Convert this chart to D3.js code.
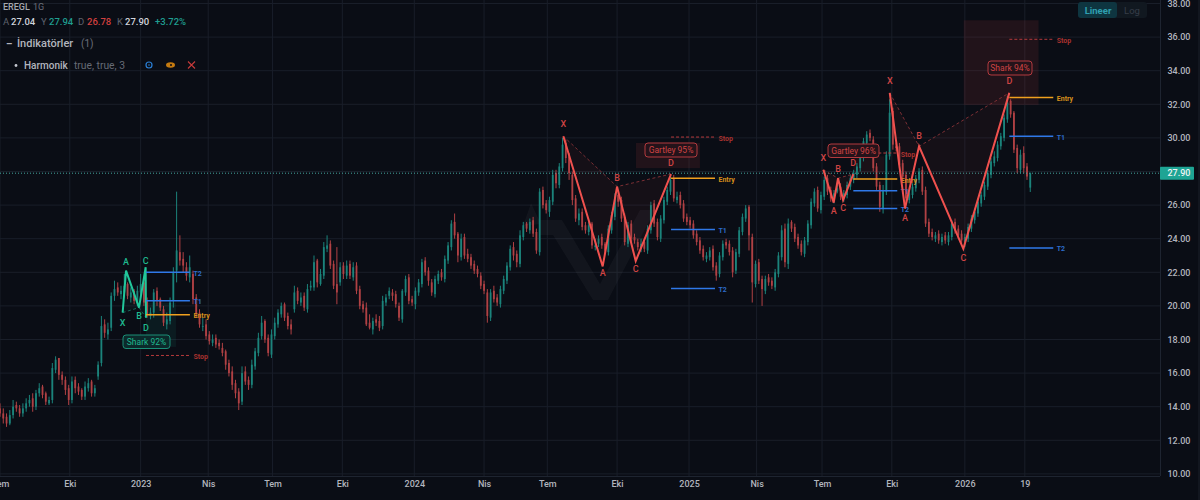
<!DOCTYPE html>
<html><head><meta charset="utf-8">
<script src="https://cdnjs.cloudflare.com/ajax/libs/d3/7.8.5/d3.min.js"></script>
<style>html,body{margin:0;padding:0;background:#0a0d15;overflow:hidden}svg{display:block}text{font-family:Roboto,"Open Sans",sans-serif}</style>
</head><body><svg id="c" width="1200" height="500"></svg>
<script>
// Price rows, one bar per three sessions
const opens=[
13.9,13.6,13.4,13.0,13.5,14.1,13.9,13.6,13.9,14.2,
14.5,14.0,14.8,15.2,14.8,14.2,14.4,16.2,16.9,15.9,
15.6,15.1,14.4,15.6,15.2,15.0,14.6,15.1,15.5,14.8,
15.8,16.6,18.9,18.3,18.7,20.6,21.1,20.7,20.8,21.3,
20.5,20.9,20.2,20.8,21.4,20.3,19.4,19.6,20.9,20.4,
19.8,18.9,19.1,20.3,22.1,23.2,22.8,22.3,21.7,21.9,
20.5,19.6,18.8,18.9,18.3,17.8,18.1,17.8,17.5,17.3,
16.6,16.1,15.4,14.9,14.3,16.1,15.6,15.3,16.4,17.2,
18.2,19.1,18.1,17.1,18.2,18.9,19.5,20.1,19.4,18.9,
19.8,20.9,20.2,20.6,19.8,21.1,21.1,22.7,21.3,21.8,
23.4,23.7,22.5,21.3,21.4,22.4,21.8,22.5,21.7,22.4,
21.0,20.1,19.9,19.0,18.6,19.2,19.1,18.8,20.2,20.6,
20.8,20.7,20.0,19.2,20.8,21.7,20.4,20.1,20.8,21.3,
22.7,22.1,21.4,20.7,21.5,22.0,21.6,22.7,23.5,25.0,
24.3,22.9,24.1,23.1,22.9,22.5,22.2,21.8,21.3,20.8,
19.3,20.9,20.5,20.1,20.9,21.5,22.3,23.5,23.1,22.5,
24.1,24.9,24.5,25.1,24.4,23.2,26.9,26.1,25.6,26.2,
27.9,27.2,28.2,29.7,28.9,27.8,26.4,25.1,25.6,24.8,
24.4,24.9,23.5,23.7,24.1,23.7,23.2,24.5,25.3,26.6,
26.3,25.3,23.7,24.9,24.1,23.8,23.4,23.8,23.3,24.5,
26.1,25.0,24.0,25.1,26.2,26.8,27.6,26.3,26.6,26.1,
25.3,25.1,24.9,24.3,23.9,23.4,22.8,22.9,23.4,22.4,
21.9,22.9,23.8,23.7,23.3,22.1,23.1,24.4,25.2,25.9,
24.1,21.3,22.6,21.6,20.9,21.7,21.5,21.1,21.9,22.9,
24.6,22.5,25.0,24.7,24.1,23.7,23.1,23.8,24.8,26.1,
26.9,25.7,26.5,27.6,26.9,26.3,26.8,27.1,26.4,26.6,
27.1,27.5,27.8,28.2,28.8,29.7,30.3,29.9,28.3,27.2,
25.8,26.8,28.9,31.6,29.5,29.5,28.5,27.8,26.3,26.6,
27.0,27.5,28.1,26.9,25.0,24.4,24.0,24.3,23.8,24.2,
23.8,24.1,25.0,24.6,24.3,23.8,24.0,24.6,25.1,25.5,
26.1,26.5,27.1,27.8,28.5,28.8,29.5,30.0,31.1,32.2,
31.5,29.4,28.1,29.1,28.3,27.04];
const highs=[
14.2,13.9,13.6,13.8,14.4,14.3,14.1,14.2,14.5,14.7,
14.8,15.0,15.4,15.3,14.9,14.6,16.6,17.0,16.9,16.1,
15.8,15.3,15.8,15.8,15.4,15.1,15.5,15.7,15.6,15.3,
16.7,19.4,19.2,19.0,20.8,21.5,21.4,21.2,21.9,21.4,
21.1,21.0,21.2,21.9,21.6,20.5,19.9,21.0,21.1,20.5,
20.0,19.6,20.5,22.3,26.8,24.2,23.2,22.6,23.0,22.1,
20.7,19.8,19.3,19.2,18.5,18.3,18.3,18.0,17.8,17.4,
16.8,16.4,15.6,15.1,16.4,16.4,15.8,16.8,17.5,18.4,
19.4,19.2,18.3,18.6,19.3,19.8,20.2,20.2,19.6,19.2,
21.2,21.1,20.8,20.8,21.3,21.5,23.0,22.8,22.2,23.8,
24.2,23.9,22.7,23.5,22.6,22.6,22.7,22.7,22.6,22.6,
21.2,20.3,20.2,19.5,19.3,19.5,19.4,20.6,20.7,21.1,
21.0,20.9,20.2,21.0,21.8,21.9,20.6,21.1,21.6,22.8,
22.9,22.3,21.6,21.8,22.1,22.2,23.0,23.8,25.1,25.5,
24.4,24.3,24.3,23.4,23.1,22.7,22.4,22.0,21.5,21.0,
21.0,21.2,20.7,21.2,21.8,22.6,23.6,23.8,23.3,24.5,
25.0,25.0,25.2,25.3,24.6,27.0,27.1,26.3,26.5,28.1,
28.1,28.5,30.0,29.9,29.1,28.0,26.6,25.8,25.8,25.0,
25.0,25.0,24.0,24.2,24.3,23.8,24.8,25.6,26.7,26.8,
26.5,25.5,25.0,25.1,24.3,24.0,24.0,24.0,24.8,26.2,
26.3,25.2,25.4,26.5,27.1,27.7,27.8,26.8,26.8,26.3,
25.5,25.3,25.1,24.5,24.1,23.6,23.2,23.5,23.6,22.6,
23.2,23.9,24.0,23.9,23.5,23.4,24.7,25.5,26.0,26.0,
24.3,22.7,22.8,21.8,21.8,21.9,21.7,22.2,23.2,24.8,
24.9,25.2,25.1,24.9,24.3,23.9,24.1,25.1,26.4,27.0,
27.1,26.8,27.7,27.8,27.1,26.9,27.2,27.3,26.9,27.4,
27.8,28.1,28.5,29.1,30.0,30.4,30.5,30.1,28.5,27.4,
27.2,29.2,32.3,31.8,29.7,29.7,28.7,28.0,26.9,27.3,
27.8,28.2,28.3,27.1,25.2,24.6,24.4,24.5,24.3,24.4,
24.4,25.1,25.2,24.8,24.5,24.3,24.9,25.4,25.8,26.4,
26.8,27.4,28.1,28.8,29.2,29.8,30.3,31.4,32.5,32.3,
31.6,29.6,29.3,29.5,28.5,27.94];
const lows=[
13.4,13.0,12.8,12.9,13.3,13.7,13.4,13.4,13.7,14.0,
13.7,13.8,14.6,14.5,14.1,14.1,14.2,16.0,15.6,15.3,
14.7,14.1,14.2,14.8,14.7,14.4,14.4,14.9,14.6,14.6,
15.6,16.4,18.1,18.0,18.5,20.3,20.6,20.4,20.5,20.4,
20.2,20.1,20.0,20.5,20.0,19.3,19.2,19.3,20.0,19.7,
18.8,18.6,18.9,19.9,21.4,22.4,22.0,21.5,21.4,20.1,
19.3,18.7,18.5,18.0,17.7,17.6,17.5,17.4,17.0,16.2,
15.8,15.0,14.5,13.8,14.1,15.3,15.0,15.1,16.2,17.0,
18.0,17.8,17.0,16.9,18.0,18.7,19.3,19.1,18.6,18.3,
19.6,20.1,20.0,19.7,19.6,20.9,20.9,21.1,21.2,21.6,
23.2,22.2,21.0,20.1,21.2,21.6,21.6,21.6,21.5,20.7,
19.8,19.6,18.8,18.6,18.3,18.8,18.5,18.6,20.0,20.4,
20.3,19.9,19.1,19.0,20.6,20.1,20.0,19.8,20.6,21.1,
21.8,21.2,20.6,20.5,21.3,21.5,21.4,22.5,23.3,24.0,
22.6,22.7,22.8,22.6,22.2,21.9,21.7,21.0,20.7,19.0,
19.1,20.2,20.0,19.9,20.7,21.3,22.1,22.7,22.3,22.3,
23.9,24.4,24.3,24.1,23.1,23.0,25.8,25.5,25.3,26.0,
27.0,27.0,28.0,28.5,27.5,26.0,25.0,24.8,24.5,24.3,
24.2,23.4,23.3,23.5,23.4,23.1,23.0,24.3,25.1,25.9,
25.0,23.6,23.5,23.8,23.7,23.3,23.2,23.2,23.1,24.3,
24.7,23.9,23.8,24.9,26.0,26.6,26.2,26.1,25.8,25.0,
24.8,24.6,24.0,23.6,23.1,22.7,22.6,22.7,22.1,21.5,
21.7,22.7,23.4,23.0,21.7,21.9,22.9,24.2,25.0,23.3,
20.2,21.1,21.3,20.0,20.7,21.2,21.0,20.9,21.7,22.7,
22.3,22.2,24.4,23.8,23.4,23.0,22.9,23.6,24.6,25.9,
25.6,25.5,26.3,26.6,26.2,26.1,26.7,26.3,26.2,26.4,
26.9,27.3,27.6,28.0,28.6,29.5,29.8,28.0,26.9,25.6,
25.5,26.6,28.7,29.3,29.2,28.2,27.5,26.2,26.1,26.4,
26.8,27.3,26.6,24.7,24.1,23.9,23.8,23.7,23.6,23.7,
23.6,23.9,24.3,24.0,23.7,23.5,23.8,24.4,24.9,25.3,
25.9,26.3,26.9,27.6,28.3,28.6,29.3,29.8,30.9,31.2,
29.1,27.9,27.9,27.9,27.5,26.78];
const closes=[
13.6,13.3,13.0,13.5,14.0,13.9,13.6,13.9,14.2,14.4,
14.0,14.8,15.1,14.7,14.3,14.4,16.3,16.8,15.9,15.6,
15.0,14.4,15.5,15.1,14.9,14.6,15.2,15.4,14.8,15.1,
16.5,18.8,18.4,18.6,20.6,21.0,20.8,20.9,21.2,20.6,
20.8,20.3,20.9,21.3,20.2,19.5,19.6,20.8,20.3,19.9,
19.0,19.2,20.2,22.0,23.3,22.7,22.4,21.8,22.3,20.4,
19.5,18.9,18.8,18.2,17.9,18.0,17.7,17.6,17.2,16.5,
16.0,15.3,14.8,14.2,16.0,15.5,15.3,16.5,17.3,18.1,
19.0,18.0,17.2,18.3,19.0,19.6,20.0,19.3,18.8,18.6,
20.8,20.3,20.5,19.9,21.0,21.2,22.6,21.4,21.9,23.5,
23.6,22.4,21.2,20.8,22.3,21.9,22.4,21.8,22.3,20.9,
20.0,19.8,18.9,18.7,19.1,19.0,18.7,20.3,20.5,20.9,
20.6,20.1,19.3,20.9,21.6,20.3,20.2,20.9,21.4,22.6,
22.0,21.5,20.8,21.6,21.9,21.7,22.8,23.6,24.9,24.2,
23.0,24.0,23.0,22.8,22.4,22.1,21.9,21.2,20.9,19.4,
20.8,20.4,20.2,21.0,21.6,22.4,23.4,23.0,22.6,24.2,
24.8,24.6,25.0,24.3,23.3,26.8,26.0,25.7,26.3,27.8,
27.3,28.3,29.6,28.8,27.9,26.3,25.2,25.5,24.7,24.5,
24.8,23.6,23.6,24.0,23.6,23.3,24.6,25.4,26.5,26.2,
25.2,23.8,24.8,24.0,23.9,23.5,23.7,23.4,24.6,26.0,
24.9,24.1,25.2,26.3,26.9,27.5,26.4,26.5,26.0,25.2,
25.0,24.8,24.2,23.8,23.3,22.9,23.0,23.3,22.3,21.8,
23.0,23.7,23.6,23.2,22.0,23.2,24.5,25.3,25.8,24.2,
21.4,22.5,21.5,21.0,21.6,21.4,21.2,22.0,23.0,24.5,
22.6,24.9,24.6,24.0,23.6,23.2,23.9,24.9,26.2,26.8,
25.8,26.6,27.5,26.8,26.4,26.7,27.0,26.5,26.7,27.2,
27.6,27.9,28.3,28.9,29.8,30.2,30.0,28.2,27.1,25.9,
26.9,29.0,31.5,29.6,29.4,28.4,27.7,26.4,26.7,27.1,
27.6,28.0,26.8,24.9,24.3,24.1,24.2,23.9,24.1,23.9,
24.2,24.9,24.5,24.2,23.9,24.1,24.7,25.2,25.6,26.2,
26.6,27.2,27.9,28.6,28.9,29.6,30.1,31.2,32.1,31.4,
29.3,28.2,29.0,28.2,27.7,27.9];
const barStep=3;
const sessionMax=1064;
const lastPrice=27.90;
const yTicks=[10,12,14,16,18,20,22,24,26,28,30,32,34,36,38];
const xTickSessions=[0,64,129,191,250,314,380,444,502,566,632,694,754,818,885,940];
const xTickLabels=["Tem","Eki","2023","Nis","Tem","Eki","2024","Nis","Tem","Eki","2025","Nis","Tem","Eki","2026","19"];
const pivotNames=["X","A","B","C","D"];
const shark92Sessions=[112.5,115.6,127.5,133.6,133.9];
const shark92Prices=[19.6,22.1,19.9,22.3,19.3];
const shark92Levels=[19.47,20.3,22.0,17.05];
const gartley95Sessions=[516.7,552.8,566,583.1,615.5];
const gartley95Prices=[30.1,22.35,27.1,22.67,27.85];
const gartley95Levels=[27.6,24.55,21.03,30.05];
const gartley96Sessions=[755.2,764.7,768.7,773.3,782.7];
const gartley96Prices=[28.1,26.15,27.6,26.3,27.85];
const gartley96Levels=[27.55,26.85,25.8,29.1];
const shark94Sessions=[816.1,830.1,843,883.6,925.8];
const shark94Prices=[32.68,25.8,29.5,23.4,32.68];
const shark94Levels=[32.4,30.1,23.45,35.87];
const levelNames=["Entry","T1","T2","Stop"];
const patternNames=["Shark 92%","Gartley 95%","Gartley 96%","Shark 94%"];

const W=1160,H=476;
const svg=d3.select("#c");
const x=d3.scaleLinear().domain([0,sessionMax]).range([0,W]);
const y=d3.scaleLinear().domain([10,38]).range([473.9,3.5]);
const defs=svg.append("defs");
defs.append("clipPath").attr("id","plot").append("rect").attr("width",W).attr("height",H);
defs.append("clipPath").attr("id","ax").append("rect").attr("x",W).attr("width",40).attr("height",H+1);
const UP="#1b837b",DOWN="#b04144",MUTED="#b2b5be";

svg.append("rect").attr("width",1200).attr("height",500).attr("fill","#0a0d15");
svg.append("rect").attr("x",1198).attr("width",2).attr("height",500).attr("fill","#12161f");
const plot=svg.append("g").attr("clip-path","url(#plot)");

// grid
plot.append("g").selectAll("line").data(yTicks).join("line")
 .attr("x1",0).attr("x2",W).attr("y1",d=>y(d)).attr("y2",d=>y(d)).attr("stroke","#191e29");
plot.append("g").selectAll("line").data(xTickSessions).join("line")
 .attr("y1",0).attr("y2",H).attr("x1",d=>x(d)).attr("x2",d=>x(d)).attr("stroke","#191e29");

// watermark
plot.append("path").attr("fill","#ffffff").attr("opacity",0.035)
 .attr("d","M540 220L562 220L600 284L640 210L655 210L608 300L593 300L553 235L540 235Z M531 203L541 224L523 226Z");

// pattern shading, below candles
const shades=[
 {s:[133.9,161.4],p:[20.18,17.56],c:"#1fa186",o:0.10},
 {s:[583.3,642],p:[29.7,28.2],c:"#b23a3a",o:0.14},
 {s:[782.7,811],p:[28.9,27.9],c:"#b23a3a",o:0.10},
 {s:[884,952.6],p:[37,31.96],c:"#b23a3a",o:0.14}];
plot.append("g").selectAll("rect").data(shades).join("rect")
 .attr("x",d=>x(d.s[0])).attr("width",d=>x(d.s[1])-x(d.s[0]))
 .attr("y",d=>y(d.p[0])).attr("height",d=>y(d.p[1])-y(d.p[0]))
 .attr("fill",d=>d.c).attr("opacity",d=>d.o);

// candles
const bars=plot.append("g").selectAll("g").data(closes).join("g");
const barX=i=>x(i*barStep);
bars.append("line").attr("x1",(d,i)=>barX(i)).attr("x2",(d,i)=>barX(i))
 .attr("y1",(d,i)=>y(highs[i])).attr("y2",(d,i)=>y(lows[i]))
 .attr("stroke",(d,i)=>d>=opens[i]?UP:DOWN).attr("stroke-width",1);
bars.append("rect").attr("x",(d,i)=>barX(i)-0.9).attr("width",1.8)
 .attr("y",(d,i)=>y(Math.max(d,opens[i])))
 .attr("height",(d,i)=>Math.max(0.8,Math.abs(y(d)-y(opens[i]))))
 .attr("fill",(d,i)=>d>=opens[i]?UP:DOWN);

// last price line
plot.append("line").attr("x1",0).attr("x2",W).attr("y1",y(lastPrice)).attr("y2",y(lastPrice))
 .attr("stroke","#45a79f").attr("stroke-dasharray","1 2");

// harmonic patterns
const patterns=[
 {n:0,s:shark92Sessions,p:shark92Prices,l:shark92Levels,col:"#22c79b",txt:"#1fb98f",dash:"#17695a",fill:"#1fa186",dy:[10,-9,8,-6,10],
  box:[123,335,47,13.5],bf:"#0c2a2b",bs:"#1b8f77"},
 {n:1,s:gartley95Sessions,p:gartley95Prices,l:gartley95Levels,col:"#f0514e",txt:"#cf4444",dash:"#7c2f34",fill:"#d04545",dy:[-12,7,-9,8,-11],
  box:[645,143,52,14],bf:"#24131a",bs:"#b23a3e"},
 {n:2,s:gartley96Sessions,p:gartley96Prices,l:gartley96Levels,col:"#f0514e",txt:"#cf4444",dash:"#7c2f34",fill:"#d04545",dy:[-12,8,-9,8,-11],
  box:[828,144,51,13.5],bf:"#24131a",bs:"#b23a3e"},
 {n:3,s:shark94Sessions,p:shark94Prices,l:shark94Levels,col:"#f0514e",txt:"#cf4444",dash:"#7c2f34",fill:"#d04545",dy:[-12,10,-10,9,-12],
  box:[988,61,44,14],bf:"#24131a",bs:"#b23a3e"}];
const levelCols=["#f0a01e","#2f78e8","#2f78e8","#b63a3c"];
const levelTxt=["#d68f1c","#2d6bc9","#2d6bc9","#a9322f"];
const levelLen=40.3;

patterns.forEach(P=>{
 const g=plot.append("g");
 const pts=P.s.map((s,i)=>[x(s),y(P.p[i])]);
 const line=d3.line();
 g.append("path").attr("d",line([pts[0],pts[1],pts[2]])+"Z").attr("fill",P.fill).attr("opacity",0.06);
 g.append("path").attr("d",line([pts[2],pts[3],pts[4]])+"Z").attr("fill",P.fill).attr("opacity",0.06);
 g.append("path").attr("d",line([pts[0],pts[2],pts[4]])).attr("fill","none")
  .attr("stroke",P.dash).attr("stroke-dasharray","3 2.5");
 g.append("path").attr("d",line(pts)).attr("fill","none").attr("stroke",P.col).attr("stroke-width",2).attr("stroke-linejoin","miter");
 g.selectAll("text.p").data(pivotNames).join("text").attr("class","p")
  .attr("x",(d,i)=>pts[i][0]).attr("y",(d,i)=>pts[i][1]+P.dy[i])
  .attr("text-anchor","middle").attr("dominant-baseline","central")
  .attr("font-size",9).attr("font-weight",500).attr("fill",P.txt).text(d=>d);
 const x0=x(P.s[4]),x1=x(P.s[4]+levelLen);
 g.selectAll("line.l").data(P.l).join("line").attr("class","l")
  .attr("x1",x0).attr("x2",x1).attr("y1",d=>y(d)).attr("y2",d=>y(d))
  .attr("stroke",(d,i)=>levelCols[i]).attr("stroke-width",(d,i)=>i==3?1:1.5)
  .attr("stroke-dasharray",(d,i)=>i==3?"3 2":null);
 g.selectAll("text.l").data(P.l).join("text").attr("class","l")
  .attr("x",x1+3.5).attr("y",d=>y(d)+1.5).attr("dominant-baseline","central")
  .attr("font-size",7).attr("font-weight",700)
  .attr("fill",(d,i)=>levelTxt[i]).text((d,i)=>levelNames[i]);
 const b=P.box;
 g.append("rect").attr("x",b[0]).attr("y",b[1]).attr("width",b[2]).attr("height",b[3]).attr("rx",3)
  .attr("fill",P.bf).attr("stroke",P.bs);
 g.append("text").attr("x",b[0]+b[2]/2).attr("y",b[1]+b[3]/2).attr("text-anchor","middle")
  .attr("dominant-baseline","central").attr("font-size",8.5).attr("fill",P.txt).text(patternNames[P.n]);
});

// frame
svg.append("line").attr("x1",W+.5).attr("x2",W+.5).attr("y1",0).attr("y2",H).attr("stroke","#1e2430");
svg.append("line").attr("x1",0).attr("x2",W).attr("y1",H+.5).attr("y2",H+.5).attr("stroke","#1e2430");

// axes
const yAxis=d3.axisRight(y).tickValues(yTicks).tickFormat(d3.format(".2f")).tickSize(0).tickPadding(7.5);
const ya=svg.append("g").attr("clip-path","url(#ax)").append("g").attr("transform",`translate(${W},0)`).call(yAxis);
ya.select(".domain").remove();
ya.selectAll("text").attr("font-family","Roboto").attr("font-size",9).attr("font-weight",500).attr("fill",MUTED);
const xAxis=d3.axisBottom(x).tickValues(xTickSessions).tickFormat((d,i)=>xTickLabels[i]).tickSize(0).tickPadding(5);
const xa=svg.append("g").attr("transform",`translate(0,${H})`).call(xAxis);
xa.select(".domain").remove();
xa.selectAll("text").attr("font-family","Roboto").attr("font-size",9).attr("font-weight",500).attr("fill",MUTED);

// last price tag
svg.append("rect").attr("x",W).attr("y",y(lastPrice)-6.5).attr("width",34).attr("height",13).attr("rx",1).attr("fill","#1ea494");
svg.append("text").attr("x",W+7.5).attr("y",y(lastPrice)).attr("dominant-baseline","central")
 .attr("font-size",9).attr("font-weight",500).attr("fill","#eef5f4").text(d3.format(".2f")(lastPrice));

// scale buttons
svg.append("rect").attr("x",1078).attr("y",2).attr("width",69).attr("height",16).attr("rx",3).attr("fill","#111820");
svg.append("rect").attr("x",1078).attr("y",2).attr("width",39).attr("height",16).attr("rx",3).attr("fill","#0e3540");
svg.append("text").attr("x",1098).attr("y",10.5).attr("text-anchor","middle").attr("dominant-baseline","central")
 .attr("font-size",9.5).attr("font-weight",700).attr("fill","#2f9fb0").text("Lineer");
svg.append("text").attr("x",1132).attr("y",10.5).attr("text-anchor","middle").attr("dominant-baseline","central")
 .attr("font-size",9.5).attr("fill","#363d48").text("Log");

// header
const head=[
 [3,7,"EREGL","#a5a8b0",9,500],[33,7,"1G","#6a6f7a",9,400],
 [3,21,"A","#5d626d",9.5,400],[11,21,"27.04","#d1d4dc",9.5,500],
 [41,21,"Y","#5d626d",9.5,400],[49,21,"27.94","#1f9e90",9.5,500],
 [78,21,"D","#5d626d",9.5,400],[87,21,"26.78","#d2403f",9.5,500],
 [117,21,"K","#5d626d",9.5,400],[125,21,"27.90","#d1d4dc",9.5,500],
 [155,21,"+3.72%","#1f9e90",9.5,500],
 [6,43,"–","#b2b5be",10,700],[17,43,"İndikatörler","#b2b5be",11,500],[81,43,"(1)","#6a6f7a",10,400],
 [24,65,"Harmonik","#b2b5be",10,500],[74,65,"true, true, 3","#666b75",10.3,400]];
svg.append("g").selectAll("text").data(head).join("text")
 .attr("x",d=>d[0]).attr("y",d=>d[1]).attr("dominant-baseline","central")
 .text(d=>d[2]).attr("fill",d=>d[3]).attr("font-size",d=>d[4]).attr("font-weight",d=>d[5]);
svg.append("circle").attr("cx",16).attr("cy",65.5).attr("r",1.4).attr("fill","#c4c7cf");
svg.append("circle").attr("cx",149).attr("cy",65).attr("r",3).attr("fill","none").attr("stroke","#2a7fd6").attr("stroke-width",1.2);
svg.append("circle").attr("cx",149).attr("cy",65).attr("r",.8).attr("fill","#2a7fd6");
svg.append("ellipse").attr("cx",170.5).attr("cy",65).attr("rx",4.5).attr("ry",2.8).attr("fill","#c47a10");
svg.append("circle").attr("cx",171).attr("cy",65).attr("r",1).attr("fill","#0a0d15");
svg.append("path").attr("d","M188 61.5L195 68.5M195 61.5L188 68.5").attr("stroke","#c73a3a").attr("stroke-width",1.1);
</script></body></html>
